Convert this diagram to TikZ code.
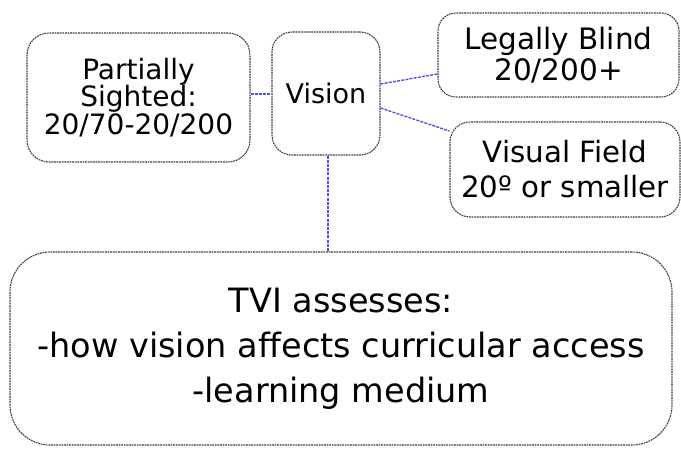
\documentclass[tikz,border=0pt]{standalone}
\usepackage{fontspec}
\setmainfont[Ligatures=NoCommon]{DejaVu Sans}
\begin{document}
\begin{tikzpicture}[x=1pt,y=-1pt,
  box/.style={draw=black!75, line width=1.1pt, dash pattern=on 1.8pt off 0.8pt,
    rounded corners=22pt, align=center, inner sep=0pt, fill=white},
  link/.style={draw={rgb,255:red,80;green,80;blue,230}, line width=1.4pt, dash pattern=on 3pt off 1.2pt}]
\useasboundingbox (0,0) rectangle (681,448);
\node[box, minimum width=223pt, minimum height=129pt, font=\fontsize{28}{27.5}\selectfont] (P) at (138.5,97.5) {Partially\\Sighted:\\20/70-20/200};
\node[box, minimum width=108pt, minimum height=123pt, rounded corners=20pt, font=\fontsize{27}{28}\selectfont] (V) at (326,93.5) {Vision};
\node[box, minimum width=241pt, minimum height=84pt, rounded corners=18pt, font=\fontsize{29.5}{31}\selectfont] (L) at (558.5,55) {Legally Blind\\20/200+};
\node[box, minimum width=230pt, minimum height=95pt, rounded corners=20pt, font=\fontsize{29.3}{35}\selectfont] (F) at (565,169.5) {Visual Field\\20º or smaller};
\node[box, minimum width=662pt, minimum height=193pt, rounded corners=40pt, font=\fontsize{33.5}{45}\selectfont] (B) at (341,348.5) {TVI assesses:\\-how vision affects curricular access\\-learning medium};
\draw[link] ([yshift=-0.5pt]P.east |- V.west) -- ([yshift=-0.5pt]V.west);
\draw[link] ([yshift=9.5pt]V.east) -- ([yshift=-19pt]L.west);
\draw[link] ([yshift=-14.5pt]V.east) -- ([yshift=38.5pt]F.west);
\draw[link] ([xshift=2pt]V.south) -- ([xshift=2pt]V.south |- B.north);
\end{tikzpicture}
\end{document}
